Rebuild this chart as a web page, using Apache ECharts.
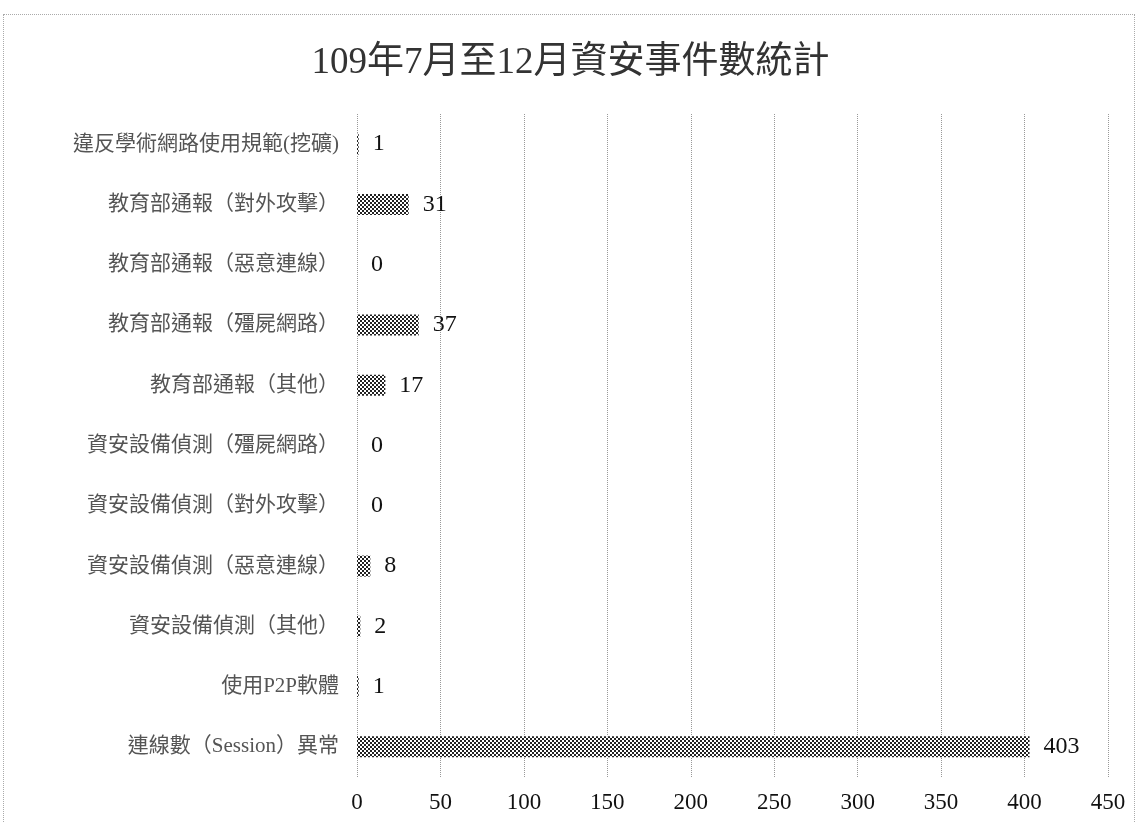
<!DOCTYPE html>
<html><head><meta charset="utf-8">
<script src="https://cdn.jsdelivr.net/npm/echarts@6/dist/echarts.min.js"></script>
<style>
html,body{margin:0;padding:0;background:#fff;}
#frame{position:absolute;left:3px;top:14px;width:1132px;height:820px;border:1px dotted #aaa;box-sizing:border-box;}
#c{position:absolute;left:0;top:0;width:1141px;height:822px;}
</style></head>
<body><div id="frame"></div><div id="c"></div>
<script>
const titleText = '109年7月至12月資安事件數統計';
const categories = ['違反學術網路使用規範(挖礦)','教育部通報（對外攻擊）','教育部通報（惡意連線）','教育部通報（殭屍網路）','教育部通報（其他）','資安設備偵測（殭屍網路）','資安設備偵測（對外攻擊）','資安設備偵測（惡意連線）','資安設備偵測（其他）','使用P2P軟體','連線數（Session）異常'];
const values = [1,31,0,37,17,0,0,8,2,1,403];
const xTicks = {min:0, max:450, interval:50};

// dithered fill pattern
const pc = document.createElement('canvas');
pc.width = 4; pc.height = 4;
const px = pc.getContext('2d');
px.fillStyle = '#fff'; px.fillRect(0,0,4,4);
px.fillStyle = '#222';
px.fillRect(0,0,2,2); px.fillRect(2,2,2,2);

const chart = echarts.init(document.getElementById('c'));
chart.setOption({
  backgroundColor: 'transparent',
  animation: false,
  title: {text: titleText, left: 'center', top: 40,
    textStyle: {fontFamily: '"Liberation Serif","Noto Sans CJK TC",serif', fontSize: 37, fontWeight: 'normal', color: '#333'}},
  grid: {left: 357, right: 33, top: 114, bottom: 45, containLabel: false},
  xAxis: {type: 'value', min: xTicks.min, max: xTicks.max, interval: xTicks.interval,
    axisLine: {show: false}, axisTick: {show: false},
    axisLabel: {margin: 14, fontFamily: '"Liberation Serif",serif', fontSize: 23, color: '#111'},
    splitLine: {show: true, lineStyle: {type: 'dotted', color: '#999', width: 1}}},
  yAxis: {type: 'category', data: categories, inverse: true,
    axisLine: {show: false}, axisTick: {show: false},
    axisLabel: {margin: 18, fontFamily: '"Liberation Serif","Noto Sans CJK TC",serif', fontSize: 21, color: '#555'}},
  series: [{type: 'bar', data: values, barWidth: 21,
    itemStyle: {color: {image: pc, repeat: 'repeat'}},
    label: {show: true, position: 'right', distance: 14, fontFamily: '"Liberation Serif",serif', fontSize: 24, color: '#111'}}]
});
</script></body></html>
